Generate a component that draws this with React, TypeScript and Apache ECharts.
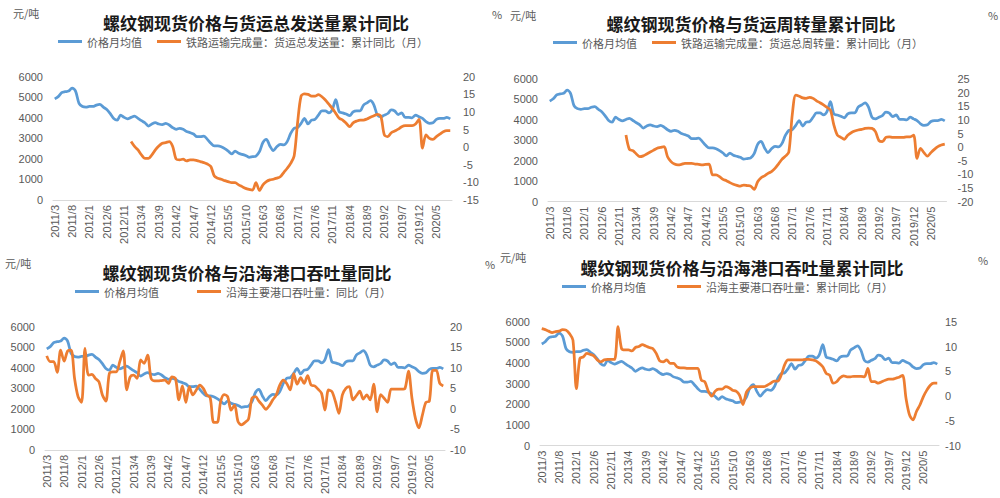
import React, { useEffect, useRef } from "react";
import * as echarts from "echarts";

const months: string[] = (() => {
  const out: string[] = [];
  let y = 2011, m = 3;
  for (let i = 0; i < 115; i++) {
    out.push(`${y}/${m}`);
    m++;
    if (m > 12) { m = 1; y++; }
  }
  return out;
})();

const priceName = "价格月均值";

const price = [
  4920, 5030, 5220, 5270, 5300, 5450, 5300, 4700, 4550, 4520,
  4550, 4550, 4620, 4650, 4520, 4400, 4200, 3970, 3890, 4130, 4020, 3950,
  4020, 4080, 3970, 3860, 3760, 3600, 3700, 3760, 3700, 3670, 3730, 3650,
  3520, 3440, 3490, 3440, 3330, 3280, 3210, 3080, 3080, 3110, 2950, 2760,
  2630, 2630, 2590, 2500, 2380, 2240, 2380, 2270, 2220, 2170, 2080, 2110,
  2140, 2350, 2800, 2950, 2630, 2400, 2590, 2710, 2680, 2840, 3240, 3490,
  3520, 3730, 3970, 3700, 3890, 3920, 4130, 4340, 4340, 4240, 4400, 4890,
  4290, 4240, 4180, 4100, 4290, 4340, 4340, 4620, 4730, 4830, 4620, 4130,
  4050, 4130, 4210, 4380, 4330, 4160, 4240, 4020, 4020, 4000, 4130, 4050,
  3970, 3810, 3730, 3760, 3920, 3970, 3970, 4020, 3950,
];

const pad22 = Array(22).fill(null);

const railTonnage = [
  ...pad22,
  1.6, 0.2, -0.8, -2.2, -3.2, -3.2, -2.2, -0.8, 0.3, 1.1, 1.3, 1.6,
  0.2, -3.4, -3.6, -3.4, -3.9, -3.6, -3.6, -3.8, -4.1, -4.4, -4.8, -5.5,
  -8.2, -8.8, -9.1, -9.5, -9.8, -10.1, -10.1, -10.7, -11.2, -11.7, -12.0, -12.2,
  -10.1, -12.3, -10.7, -9.8, -9.3, -9.1, -8.8, -8.4, -7.2, -6.0, -4.6, -2.5,
  7.0, 14.5, 15.1, 15.0, 14.5, 14.5, 14.9, 14.3, 13.4, 12.2, 11.0, 9.6,
  8.2, 7.7, 6.8, 5.8, 6.9, 7.4, 7.7, 7.7, 8.0, 8.5, 8.9, 9.3,
  8.7, 3.5, 3.0, 4.1, 4.6, 5.1, 5.8, 6.1, 6.1, 6.1, 6.6, 7.9,
  -0.3, 3.5, 2.5, 2.2, 3.0, 3.7, 4.4, 4.7, 4.7,
];

const railTurnover = [
  ...pad22,
  4.5, -0.8, -1.3, -2.5, -3.5, -3.2, -2.5, -1.8, -1.1, -0.4, -0.1, 0.2,
  -3.5, -5.3, -6.2, -6.5, -6.3, -5.9, -5.9, -5.9, -6.2, -6.3, -6.5, -6.3,
  -6.2, -10.2, -10.2, -10.8, -11.8, -12.3, -13.0, -13.6, -14.0, -14.3, -13.9, -14.1,
  -14.3, -15.5, -12.7, -11.2, -10.5, -9.6, -9.0, -7.8, -6.2, -4.5, -3.3, -1.8,
  12.0, 19.1, 18.7, 18.1, 17.9, 18.3, 17.9, 17.0, 16.3, 15.5, 14.6, 13.6,
  8.1, 4.4, 3.6, 2.9, 4.4, 5.3, 5.9, 6.3, 6.5, 6.9, 7.0, 6.9,
  5.7, 2.4, 2.0, 3.6, 3.8, 3.6, 3.6, 3.6, 3.6, 3.8, 3.8, 4.4,
  -4.1, -0.4, -2.0, -3.3, -2.0, -0.8, 0.2, 0.8, 1.1,
];

const portMonthly = [
  12.9, 11.5, 11.5, 8.9, 14.3, 11.6, 14.1, 14.3, 7.4, 3.0,
  1.6, 14.7, 8.2, 8.4, 7.4, 6.6, 3.4, 1.9, 8.6, 9.0, 9.0, 11.5,
  14.1, 4.6, 7.8, 8.2, 7.4, 11.9, 11.1, 13.1, 7.4, 6.8, 6.8, 6.9,
  7.0, 6.2, 7.8, 7.4, 2.2, 5.6, 1.6, 5.4, 3.4, 4.6, 5.8, 5.0,
  3.4, 2.7, -3.3, -3.3, 1.8, 3.5, 3.0, -0.3, 0.9, -3.1, -3.9, -3.3,
  -2.5, 2.6, 3.0, 1.9, 0.9, -0.1, 0.8, 2.2, 3.4, 5.8, 7.0, 6.2,
  4.6, 8.6, 6.0, 7.6, 6.2, 8.1, 5.8, 5.6, 4.8, 3.8, -0.3, 4.6,
  4.2, 1.8, -1.1, 3.4, 5.0, 5.4, 2.2, 3.2, 4.3, 2.4, 3.4, 2.2,
  6.0, -0.7, 3.5, 2.6, 1.6, 4.8, 4.8, 4.8, 4.8, 5.0, 9.2, 2.6,
  -2.3, -4.6, -1.5, 1.6, 1.9, 9.4, 9.4, 6.2, 5.6,
];

const portCumulative = [
  13.6, 13.4, 13.1, 12.8, 13.0, 13.1, 13.4, 13.3, 12.6, 11.3,
  1.5, 7.6, 7.9, 8.6, 8.4, 8.1, 7.3, 6.9, 7.3, 7.4, 7.4, 7.4,
  14.0, 9.6, 9.3, 9.3, 9.1, 9.8, 10.0, 10.4, 10.1, 9.8, 9.6, 8.6,
  7.1, 6.9, 7.3, 6.6, 6.6, 5.9, 5.7, 5.7, 5.6, 5.6, 5.6, 5.6,
  3.2, 2.9, 1.0, 0.0, 1.0, 1.4, 1.4, 1.9, 1.7, 1.2, 1.0, 0.2,
  -1.7, 0.8, 1.6, 1.9, 1.9, 1.9, 1.9, 2.2, 2.6, 3.0, 3.0, 4.2,
  6.3, 7.3, 7.3, 7.3, 7.3, 7.3, 7.4, 7.4, 7.3, 7.1, 6.6, 5.9,
  4.6, 4.2, 2.6, 2.9, 3.7, 4.1, 3.9, 3.9, 4.0, 4.0, 4.0, 3.9,
  5.6, 2.9, 2.9, 2.6, 2.9, 3.2, 3.4, 3.4, 3.6, 3.8, 4.2, -0.5,
  -3.8, -4.8, -3.1, -1.8, -0.1, 1.2, 2.2, 2.6, 2.6,
];

const titles = [
  "螺纹钢现货价格与货运总发送量累计同比",
  "螺纹钢现货价格与货运周转量累计同比",
  "螺纹钢现货价格与沿海港口吞吐量同比",
  "螺纹钢现货价格与沿海港口吞吐量累计同比",
];
const orangeNames = [
  "铁路运输完成量：货运总发送量：累计同比（月）",
  "铁路运输完成量：货运总周转量：累计同比（月）",
  "沿海主要港口吞吐量：同比（月）",
  "沿海主要港口吞吐量：累计同比（月）",
];
const orangeData = [railTonnage, railTurnover, portMonthly, portCumulative];
const rightRanges = [
  [-15, 20],
  [-20, 25],
  [-10, 20],
  [-10, 15],
];

const layout = [
  { grid: { left: 53, top: 76.7, width: 399, height: 123.3 }, titleX: 256, titleY: 22, legendLeft: 58, legendTop: 36, legendGap: 15, unitL: [13, 13], unitR: [492, 14], rMargin: 11 },
  { grid: { left: 548, top: 79, width: 398.5, height: 122.7 }, titleX: 751, titleY: 23, legendLeft: 553, legendTop: 37, legendGap: 15, unitL: [510, 15], unitR: [988, 15], rMargin: 11 },
  { grid: { left: 45, top: 326.7, width: 400, height: 123.3 }, titleX: 247, titleY: 272, legendLeft: 75, legendTop: 286, legendGap: 38, unitL: [5, 263], unitR: [485, 264], rMargin: 5 },
  { grid: { left: 540, top: 321.7, width: 399, height: 124 }, titleX: 742, titleY: 267, legendLeft: 562, legendTop: 281, legendGap: 31, unitL: [500, 257], unitR: [978, 260], rMargin: 6 },
];

const FONT = '"Noto Sans CJK SC", "Noto Sans", sans-serif';
const NUMFONT = '"Liberation Sans", Arial, sans-serif';
const BLUE = "#5B9BD5";
const ORANGE = "#ED7D31";
const GRAY = "#595959";

export default function App() {
  const ref = useRef<HTMLDivElement>(null);
  useEffect(() => {
    if (!ref.current) return;
    const chart = echarts.init(ref.current, undefined, { renderer: "svg" });
    const grids: any[] = [];
    const xAxes: any[] = [];
    const yAxes: any[] = [];
    const series: any[] = [];
    const legends: any[] = [];
    const graphics: any[] = [];
    const plain = (v: number) => String(v);
    layout.forEach((L, p) => {
      grids.push({ ...L.grid, containLabel: false });
      xAxes.push({
        type: "category",
        gridIndex: p,
        data: months,
        boundaryGap: true,
        axisLine: { lineStyle: { color: "#D9D9D9", width: 1 } },
        axisTick: { show: false },
        axisLabel: { interval: 4, rotate: 90, fontSize: 11, color: GRAY, fontFamily: NUMFONT, margin: 5 },
        splitLine: { show: false },
      });
      yAxes.push({
        type: "value",
        gridIndex: p,
        min: 0,
        max: 6000,
        interval: 1000,
        axisLine: { show: false },
        axisTick: { show: false },
        splitLine: { show: false },
        axisLabel: { fontSize: 11, lineHeight: 12, color: GRAY, fontFamily: NUMFONT, margin: 10, formatter: plain },
      });
      yAxes.push({
        type: "value",
        gridIndex: p,
        position: "right",
        min: rightRanges[p][0],
        max: rightRanges[p][1],
        interval: 5,
        axisLine: { show: false },
        axisTick: { show: false },
        splitLine: { show: false },
        axisLabel: { fontSize: 11, lineHeight: 12, color: GRAY, fontFamily: NUMFONT, margin: L.rMargin, formatter: plain },
      });
      series.push({
        name: priceName,
        type: "line",
        xAxisIndex: p,
        yAxisIndex: p * 2,
        data: price,
        symbol: "none",
        smooth: 0.3,
        lineStyle: { color: BLUE, width: 2.75 },
        itemStyle: { color: BLUE },
      });
      series.push({
        name: orangeNames[p],
        type: "line",
        xAxisIndex: p,
        yAxisIndex: p * 2 + 1,
        data: orangeData[p],
        symbol: "none",
        smooth: 0.3,
        connectNulls: false,
        lineStyle: { color: ORANGE, width: 2.75 },
        itemStyle: { color: ORANGE },
      });
      legends.push({
        data: [priceName, orangeNames[p]],
        left: L.legendLeft,
        top: L.legendTop,
        icon: "rect",
        itemWidth: 24,
        itemHeight: 3,
        itemGap: L.legendGap,
        padding: 0,
        textStyle: { fontSize: 11, color: GRAY, fontFamily: FONT },
      });
      graphics.push({
        type: "text",
        x: L.titleX,
        y: L.titleY,
        style: {
          text: titles[p],
          fill: "#1A1A1A",
          font: `bold 17px ${FONT}`,
          textAlign: "center",
          textVerticalAlign: "middle",
          align: "center",
          verticalAlign: "middle",
        },
      });
      graphics.push({
        type: "text",
        x: L.unitL[0],
        y: L.unitL[1],
        style: { text: "元/吨", fill: GRAY, font: `11px ${FONT}`, textVerticalAlign: "middle", verticalAlign: "middle" },
      });
      graphics.push({
        type: "text",
        x: L.unitR[0],
        y: L.unitR[1],
        style: { text: "%", fill: GRAY, font: `11px ${FONT}`, textVerticalAlign: "middle", verticalAlign: "middle" },
      });
    });
    chart.setOption({
      animation: false,
      backgroundColor: "#FFFFFF",
      textStyle: { fontFamily: FONT },
      grid: grids,
      xAxis: xAxes,
      yAxis: yAxes,
      legend: legends,
      series,
      graphic: graphics,
    });
    return () => chart.dispose();
  }, []);
  return (
    <div
      ref={ref}
      style={{ position: "absolute", left: 0, top: 0, width: 1000, height: 498 }}
    />
  );
}
